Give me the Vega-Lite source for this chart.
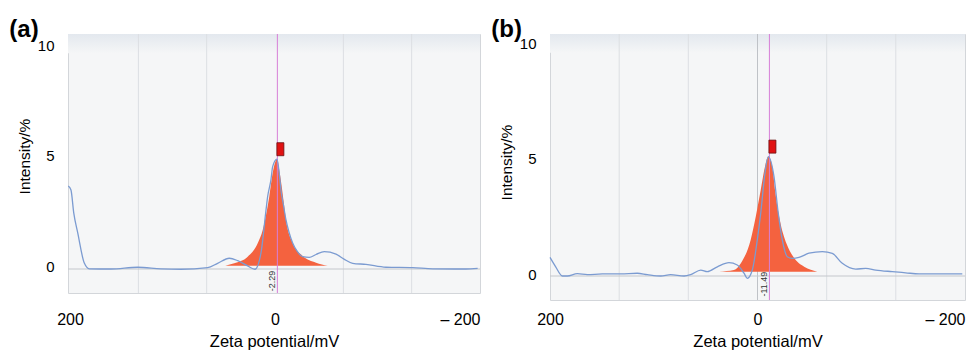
{
  "$schema": "https://vega.github.io/schema/vega-lite/v6.json",
  "padding": {"left": 8, "top": 17, "right": 0, "bottom": 0},
  "spacing": 9,
  "config": {
    "view": {"fill": "#f5f6f7", "stroke": "#d3d6da", "strokeWidth": 1},
    "font": "Liberation Sans",
    "axis": {"labelFont": "Liberation Sans", "titleFont": "Liberation Sans", "labelColor": "#000", "titleColor": "#000", "titleFontWeight": "normal", "ticks": false, "domain": false, "grid": false},
    "title": {"font": "Liberation Sans", "fontSize": 24, "fontWeight": "bold", "color": "#000", "anchor": "start", "frame": "bounds", "dx": -8, "offset": -8, "baseline": "alphabetic"}
  },
  "datasets": {
    "curves": [
      {"p": "a", "mv": 201.7, "val": 3.77}, {"p": "a", "mv": 199.1, "val": 3.59}, {"p": "a", "mv": 196.4, "val": 2.55}, {"p": "a", "mv": 192.5, "val": 1.64}, {"p": "a", "mv": 186.1, "val": 0.27}, {"p": "a", "mv": 181.2, "val": 0.01}, {"p": "a", "mv": 160, "val": 0.0}, {"p": "a", "mv": 134, "val": 0.08}, {"p": "a", "mv": 111.3, "val": 0.01}, {"p": "a", "mv": 91.8, "val": -0.01}, {"p": "a", "mv": 65.7, "val": 0.06}, {"p": "a", "mv": 56, "val": 0.26}, {"p": "a", "mv": 44.6, "val": 0.49}, {"p": "a", "mv": 36.4, "val": 0.38}, {"p": "a", "mv": 26.7, "val": 0.14}, {"p": "a", "mv": 19.6, "val": -0.01}, {"p": "a", "mv": 13.7, "val": 0.73}, {"p": "a", "mv": 8.8, "val": 2.68}, {"p": "a", "mv": 7.2, "val": 3.29}, {"p": "a", "mv": 4.0, "val": 4.05}, {"p": "a", "mv": 2.3, "val": 4.65}, {"p": "a", "mv": -1.9, "val": 4.99}, {"p": "a", "mv": -4.3, "val": 4.27}, {"p": "a", "mv": -5.8, "val": 3.59}, {"p": "a", "mv": -8.2, "val": 2.91}, {"p": "a", "mv": -10.7, "val": 2.23}, {"p": "a", "mv": -13.6, "val": 1.68}, {"p": "a", "mv": -17.2, "val": 1.18}, {"p": "a", "mv": -21.4, "val": 0.82}, {"p": "a", "mv": -27, "val": 0.56}, {"p": "a", "mv": -33.4, "val": 0.53}, {"p": "a", "mv": -40, "val": 0.66}, {"p": "a", "mv": -48, "val": 0.79}, {"p": "a", "mv": -59.5, "val": 0.68}, {"p": "a", "mv": -67.3, "val": 0.45}, {"p": "a", "mv": -75.8, "val": 0.26}, {"p": "a", "mv": -88.7, "val": 0.21}, {"p": "a", "mv": -108.2, "val": 0.08}, {"p": "a", "mv": -134.3, "val": 0.06}, {"p": "a", "mv": -153.8, "val": 0.01}, {"p": "a", "mv": -186.3, "val": 0.0}, {"p": "a", "mv": -197.7, "val": 0.03},
      {"p": "b", "mv": 200, "val": 0.81}, {"p": "b", "mv": 194.5, "val": 0.40}, {"p": "b", "mv": 188.1, "val": 0.0}, {"p": "b", "mv": 183.3, "val": 0.0}, {"p": "b", "mv": 173.7, "val": 0.10}, {"p": "b", "mv": 164, "val": 0.06}, {"p": "b", "mv": 149.6, "val": 0.09}, {"p": "b", "mv": 131.9, "val": 0.09}, {"p": "b", "mv": 115.9, "val": 0.12}, {"p": "b", "mv": 106.2, "val": 0.06}, {"p": "b", "mv": 93.3, "val": 0.0}, {"p": "b", "mv": 83.7, "val": 0.06}, {"p": "b", "mv": 70.8, "val": 0.0}, {"p": "b", "mv": 64.4, "val": 0.06}, {"p": "b", "mv": 54.7, "val": 0.26}, {"p": "b", "mv": 48.4, "val": 0.19}, {"p": "b", "mv": 38.7, "val": 0.40}, {"p": "b", "mv": 27.5, "val": 0.58}, {"p": "b", "mv": 19.5, "val": 0.48}, {"p": "b", "mv": 13, "val": 0.12}, {"p": "b", "mv": 9.8, "val": -0.10}, {"p": "b", "mv": 5, "val": 0.26}, {"p": "b", "mv": 0.2, "val": 1.57}, {"p": "b", "mv": -3.1, "val": 2.73}, {"p": "b", "mv": -7.2, "val": 4.47}, {"p": "b", "mv": -10.4, "val": 5.19}, {"p": "b", "mv": -15.9, "val": 4.32}, {"p": "b", "mv": -20, "val": 2.73}, {"p": "b", "mv": -23.9, "val": 1.57}, {"p": "b", "mv": -28.7, "val": 0.84}, {"p": "b", "mv": -33.5, "val": 0.77}, {"p": "b", "mv": -40, "val": 0.81}, {"p": "b", "mv": -49.6, "val": 0.99}, {"p": "b", "mv": -62.5, "val": 1.06}, {"p": "b", "mv": -72.1, "val": 0.98}, {"p": "b", "mv": -81.7, "val": 0.55}, {"p": "b", "mv": -94.7, "val": 0.30}, {"p": "b", "mv": -104.3, "val": 0.33}, {"p": "b", "mv": -113.9, "val": 0.26}, {"p": "b", "mv": -129.9, "val": 0.19}, {"p": "b", "mv": -142.8, "val": 0.14}, {"p": "b", "mv": -155.7, "val": 0.09}, {"p": "b", "mv": -171.8, "val": 0.09}, {"p": "b", "mv": -197.4, "val": 0.09}
    ],
    "dist": [
      {"p": "a", "mv": 48.5, "val": 0.15}, {"p": "a", "mv": 39.8, "val": 0.26}, {"p": "a", "mv": 26.7, "val": 0.56}, {"p": "a", "mv": 16.9, "val": 1.17}, {"p": "a", "mv": 12, "val": 1.77}, {"p": "a", "mv": 5.6, "val": 3.29}, {"p": "a", "mv": 2.3, "val": 4.35}, {"p": "a", "mv": -1.9, "val": 4.99}, {"p": "a", "mv": -4.9, "val": 4.27}, {"p": "a", "mv": -8.2, "val": 3.14}, {"p": "a", "mv": -10.7, "val": 2.23}, {"p": "a", "mv": -17.2, "val": 1.18}, {"p": "a", "mv": -27, "val": 0.59}, {"p": "a", "mv": -40, "val": 0.29}, {"p": "a", "mv": -51.4, "val": 0.15},
      {"p": "b", "mv": 37.1, "val": 0.19}, {"p": "b", "mv": 22.7, "val": 0.26}, {"p": "b", "mv": 15.9, "val": 0.57}, {"p": "b", "mv": 6.6, "val": 1.57}, {"p": "b", "mv": 1.7, "val": 2.58}, {"p": "b", "mv": -3.1, "val": 3.74}, {"p": "b", "mv": -7.2, "val": 4.75}, {"p": "b", "mv": -10.4, "val": 5.19}, {"p": "b", "mv": -14.3, "val": 4.75}, {"p": "b", "mv": -17, "val": 3.7}, {"p": "b", "mv": -21.5, "val": 2.43}, {"p": "b", "mv": -28, "val": 1.4}, {"p": "b", "mv": -35, "val": 0.8}, {"p": "b", "mv": -45, "val": 0.4}, {"p": "b", "mv": -57.6, "val": 0.19}
    ],
    "peaks": [
      {"p": "a", "mv": -2.29, "val": 4.99, "label": "-2.29"},
      {"p": "b", "mv": -11.49, "val": 5.19, "label": "-11.49"}
    ],
    "grid": [{"mv": 133.3}, {"mv": 66.7}, {"mv": -66.7}, {"mv": -133.3}]
  },
  "hconcat": [
    {
      "width": 412, "height": 259,
      "title": {"text": "(a)"},
      "layer": [
        {"data": {"name": "curves"}, "transform": [{"filter": "datum.p == 'a'"}], "mark": {"type": "line", "color": "#7b9bd1", "strokeWidth": 1.3, "strokeOpacity": 0},
         "encoding": {
           "x": {"field": "mv", "type": "quantitative", "scale": {"domain": [-200, 202], "reverse": true, "nice": false, "zero": false},
                 "axis": {"values": [200, 0, -200], "labelExpr": "datum.value < 0 ? '– ' + format(-datum.value, 'd') : format(datum.value, 'd')", "labelFlush": false, "labelOverlap": false, "labelAlign": {"condition": {"test": "datum.value < 0", "value": "right"}, "value": "center"}, "labelFontSize": 16, "labelPadding": 18, "title": "Zeta potential/mV", "titleFontSize": 16.5, "titlePadding": 6}},
           "y": {"field": "val", "type": "quantitative", "scale": {"domain": [-1.09, 10.68], "nice": false, "zero": false},
                 "axis": {"values": [0, 5, 10], "labelFontSize": 15, "labelPadding": 14, "labelOffset": -3, "title": "Intensity/%", "titleFontSize": 15.5, "titlePadding": 5, "titleY": 122}}
         }},
        {"data": {"values": [{}]}, "mark": {"type": "rect", "color": {"gradient": "linear", "x1": 0, "y1": 0, "x2": 0, "y2": 1, "stops": [{"offset": 0, "color": "#e3e8ee"}, {"offset": 1, "color": "#f5f6f7"}]}},
         "encoding": {"y": {"datum": 10.68, "type": "quantitative"}, "y2": {"datum": 9.8}}},
        {"data": {"name": "grid"}, "mark": {"type": "rule", "stroke": "#dcdfe3", "strokeWidth": 1},
         "encoding": {"x": {"field": "mv", "type": "quantitative"}}},
        {"data": {"values": [{}]}, "mark": {"type": "rule", "stroke": "#c4c7cc", "strokeWidth": 1},
         "encoding": {"y": {"datum": 0, "type": "quantitative"}}},
        {"data": {"name": "dist"}, "transform": [{"filter": "datum.p == 'a'"}], "mark": {"type": "area", "color": "#f4623f", "interpolate": "monotone", "opacity": 1},
         "encoding": {"x": {"field": "mv", "type": "quantitative"}, "y": {"field": "val", "type": "quantitative"}, "y2": {"datum": 0.15}}},
        {"data": {"name": "peaks"}, "transform": [{"filter": "datum.p == 'a'"}], "mark": {"type": "rule", "stroke": "#d77fd7", "strokeWidth": 1, "opacity": 1},
         "encoding": {"x": {"field": "mv", "type": "quantitative"}}},
        {"data": {"name": "curves"}, "transform": [{"filter": "datum.p == 'a'"}], "mark": {"type": "line", "color": "#7b9bd1", "strokeWidth": 1.3, "interpolate": "monotone"},
         "encoding": {"x": {"field": "mv", "type": "quantitative"}, "y": {"field": "val", "type": "quantitative"}}},
        {"data": {"name": "peaks"}, "transform": [{"filter": "datum.p == 'a'"}], "mark": {"type": "point", "shape": "M-0.54,-1H0.54V1H-0.54Z", "size": 169, "filled": true, "fill": "#e01212", "stroke": "#6a1010", "strokeWidth": 0.8, "opacity": 1, "xOffset": 3, "yOffset": -10},
         "encoding": {"x": {"field": "mv", "type": "quantitative"}, "y": {"field": "val", "type": "quantitative"}}},
        {"data": {"name": "peaks"}, "transform": [{"filter": "datum.p == 'a'"}], "mark": {"type": "text", "angle": 270, "align": "center", "baseline": "bottom", "fontSize": 9, "color": "#333"},
         "encoding": {"x": {"field": "mv", "type": "quantitative"}, "y": {"datum": -0.55, "type": "quantitative"}, "text": {"field": "label"}}}
      ]
    },
    {
      "width": 415, "height": 266,
      "title": {"text": "(b)"},
      "layer": [
        {"data": {"name": "curves"}, "transform": [{"filter": "datum.p == 'b'"}], "mark": {"type": "line", "color": "#7b9bd1", "strokeWidth": 1.3, "strokeOpacity": 0},
         "encoding": {
           "x": {"field": "mv", "type": "quantitative", "scale": {"domain": [-200, 200], "reverse": true, "nice": false, "zero": false},
                 "axis": {"values": [200, 0, -200], "labelExpr": "datum.value < 0 ? '– ' + format(-datum.value, 'd') : format(datum.value, 'd')", "labelFlush": false, "labelOverlap": false, "labelAlign": {"condition": {"test": "datum.value < 0", "value": "right"}, "value": "center"}, "labelFontSize": 16, "labelPadding": 11, "title": "Zeta potential/mV", "titleFontSize": 16.5, "titlePadding": 6}},
           "y": {"field": "val", "type": "quantitative", "scale": {"domain": [-1.043, 10.52], "nice": false, "zero": false},
                 "axis": {"values": [0, 5, 10], "labelFontSize": 15, "labelPadding": 14, "labelOffset": -2, "title": "Intensity/%", "titleFontSize": 15.5, "titlePadding": 5, "titleY": 128}}
         }},
        {"data": {"values": [{}]}, "mark": {"type": "rect", "color": {"gradient": "linear", "x1": 0, "y1": 0, "x2": 0, "y2": 1, "stops": [{"offset": 0, "color": "#e3e8ee"}, {"offset": 1, "color": "#f5f6f7"}]}},
         "encoding": {"y": {"datum": 10.52, "type": "quantitative"}, "y2": {"datum": 9.7}}},
        {"data": {"name": "grid"}, "mark": {"type": "rule", "stroke": "#dcdfe3", "strokeWidth": 1},
         "encoding": {"x": {"field": "mv", "type": "quantitative"}}},
        {"data": {"values": [{}]}, "mark": {"type": "rule", "stroke": "#bfc2c7", "strokeWidth": 1},
         "encoding": {"x": {"datum": 0, "type": "quantitative"}}},
        {"data": {"values": [{}]}, "mark": {"type": "rule", "stroke": "#c4c7cc", "strokeWidth": 1},
         "encoding": {"y": {"datum": 0, "type": "quantitative"}}},
        {"data": {"name": "dist"}, "transform": [{"filter": "datum.p == 'b'"}], "mark": {"type": "area", "color": "#f4623f", "interpolate": "monotone", "opacity": 1},
         "encoding": {"x": {"field": "mv", "type": "quantitative"}, "y": {"field": "val", "type": "quantitative"}, "y2": {"datum": 0.19}}},
        {"data": {"name": "peaks"}, "transform": [{"filter": "datum.p == 'b'"}], "mark": {"type": "rule", "stroke": "#d77fd7", "strokeWidth": 1, "opacity": 1},
         "encoding": {"x": {"field": "mv", "type": "quantitative"}}},
        {"data": {"name": "curves"}, "transform": [{"filter": "datum.p == 'b'"}], "mark": {"type": "line", "color": "#7b9bd1", "strokeWidth": 1.3, "interpolate": "monotone"},
         "encoding": {"x": {"field": "mv", "type": "quantitative"}, "y": {"field": "val", "type": "quantitative"}}},
        {"data": {"name": "peaks"}, "transform": [{"filter": "datum.p == 'b'"}], "mark": {"type": "point", "shape": "M-0.54,-1H0.54V1H-0.54Z", "size": 169, "filled": true, "fill": "#e01212", "stroke": "#6a1010", "strokeWidth": 0.8, "opacity": 1, "xOffset": 3, "yOffset": -10},
         "encoding": {"x": {"field": "mv", "type": "quantitative"}, "y": {"field": "val", "type": "quantitative"}}},
        {"data": {"name": "peaks"}, "transform": [{"filter": "datum.p == 'b'"}], "mark": {"type": "text", "angle": 270, "align": "center", "baseline": "bottom", "fontSize": 9, "color": "#333"},
         "encoding": {"x": {"field": "mv", "type": "quantitative"}, "y": {"datum": -0.35, "type": "quantitative"}, "text": {"field": "label"}}}
      ]
    }
  ]
}
